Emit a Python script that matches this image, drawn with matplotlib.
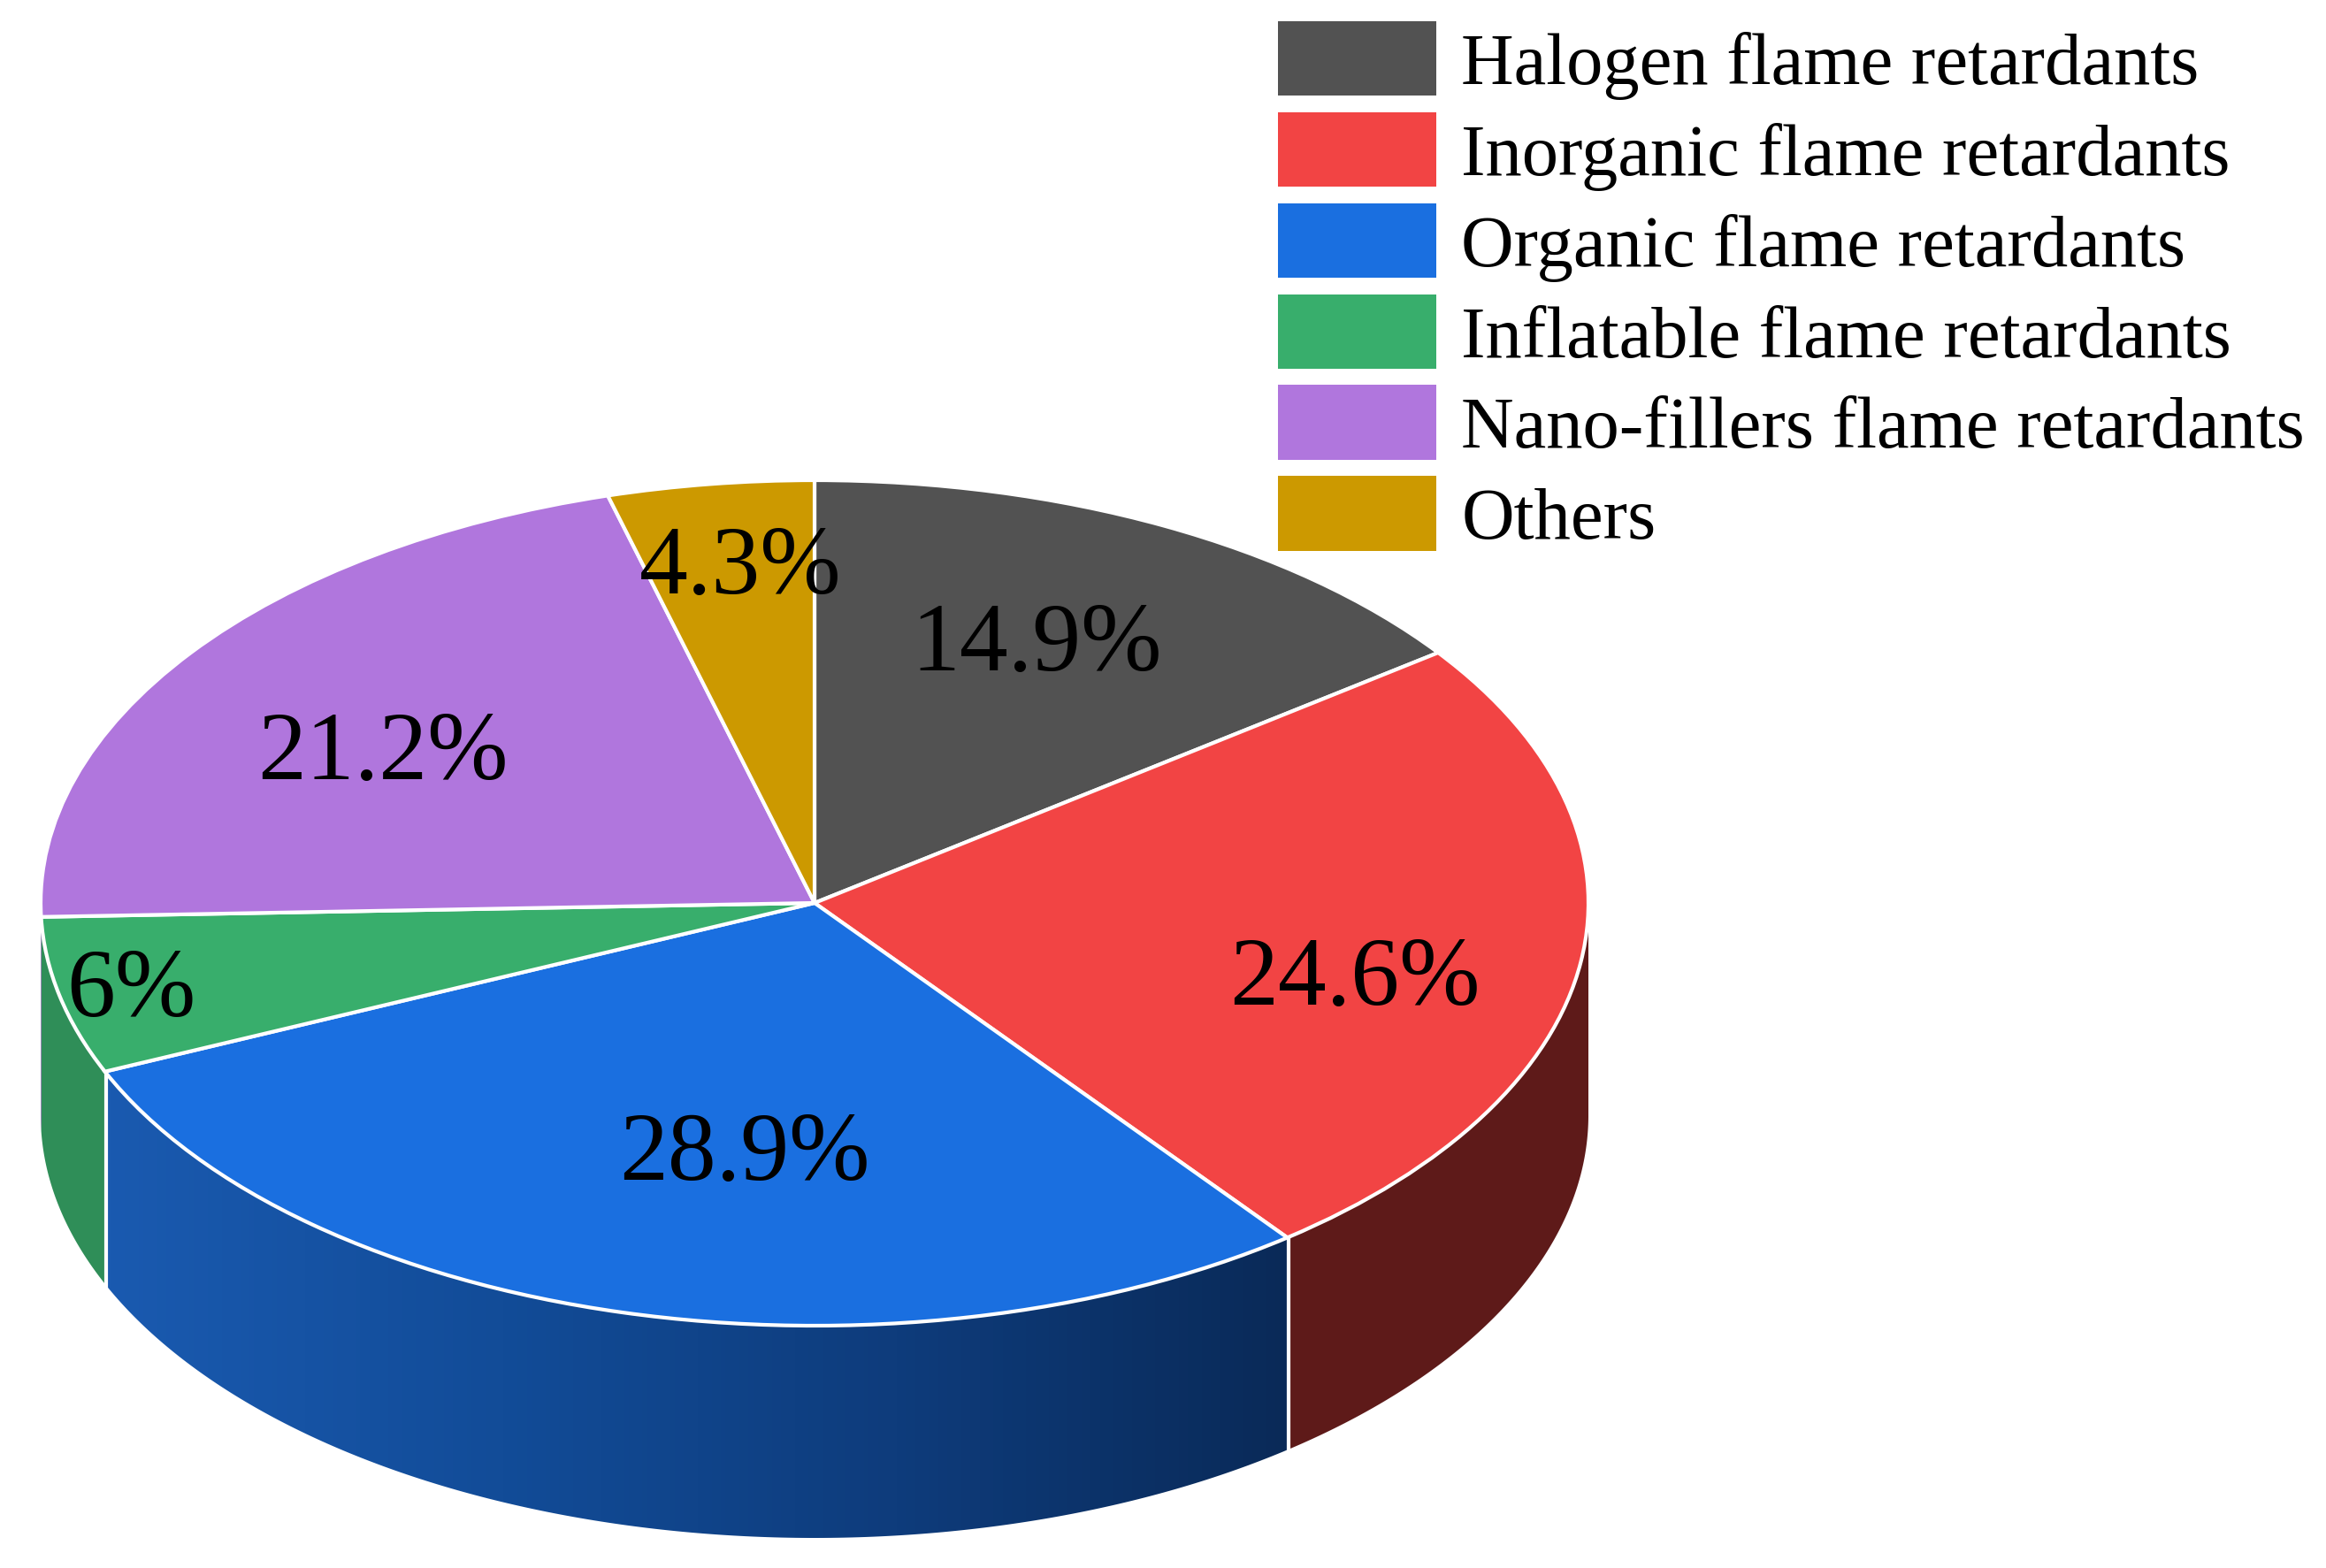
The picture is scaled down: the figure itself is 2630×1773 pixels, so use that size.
import numpy as np
import matplotlib
matplotlib.use("Agg")
import matplotlib.pyplot as plt
from matplotlib.colors import LinearSegmentedColormap
from matplotlib.patches import Polygon

plt.rcParams['font.family'] = ['Liberation Serif', 'DejaVu Serif']

names = ['Halogen flame retardants', 'Inorganic flame retardants', 'Organic flame retardants',
         'Inflatable flame retardants', 'Nano-fillers flame retardants', 'Others']
values = [14.9, 24.6, 28.9, 6, 21.2, 4.3]
colors = ['#525252', '#f24444', '#1a6fe0', '#38ae6c', '#b076dd', '#cc9900']
wall_colors = ['#333333', '#5e1a19', None, '#2f8e58', '#8a5cb0', '#a07800']
# label centres in pixels of the finished picture
label_xy = [(1172, 731), (1532, 1109), (842, 1307), (148, 1122), (433, 854), (837, 644)]

W, H = 2630, 1774
cx, cy, rx, ry = 921, 1022, 875, 478
depth = 240 / ry

fig = plt.figure(figsize=(W / 100, H / 100), dpi=100, facecolor='white')
ax = fig.add_axes([0, 0, 1, 1])

# side wall first, the top goes over it
edges = 90 - 3.6 * np.cumsum([0] + values)
for i in range(len(values)):
    t0 = max(edges[i + 1], -180)
    t1 = min(edges[i], 0)
    if t1 <= t0:
        continue
    t = np.radians(np.linspace(t0, t1, 200))
    x = np.cos(t)
    y = np.sin(t)
    pts = np.r_[np.c_[x, y], np.c_[x[::-1], y[::-1] - depth]]
    if wall_colors[i] is None:
        # organic wall has a left to right gradient
        cmap = LinearSegmentedColormap.from_list('wall', ['#1a5ab0', '#124c98', '#0e3c7c', '#0a2a58'])
        clip = Polygon(pts, closed=True, transform=ax.transData, fc='none', ec='none')
        ax.add_patch(clip)
        ax.imshow(np.linspace(0, 1, 256)[None, :], cmap=cmap, aspect='auto', clip_path=clip,
                  extent=(x.min(), x.max(), -1.6, 0.2), zorder=1)
        ax.plot([x[0], x[0]], [y[0], y[0] - depth], color='white', lw=3, zorder=2)
        ax.plot([x[-1], x[-1]], [y[-1], y[-1] - depth], color='white', lw=3, zorder=2)
    else:
        ax.add_patch(Polygon(pts, closed=True, fc=wall_colors[i], ec='none', zorder=1))

wedges, _ = ax.pie(values, colors=colors, startangle=90, counterclock=False, radius=1,
                   wedgeprops={'edgecolor': 'white', 'linewidth': 3, 'zorder': 3})

ax.set_aspect('auto')
ax.set_xlim(-cx / rx, (W - cx) / rx)
ax.set_ylim((cy - H) / ry, cy / ry)
ax.axis('off')

for v, (lx, ly) in zip(values, label_xy):
    fig.text(lx / W, 1 - ly / H, f'{v:g}%', fontsize=79, ha='center', va='center', color='black', zorder=5)

leg = fig.legend(wedges, names, loc='upper left', bbox_to_anchor=(1445 / W, 1 - 25 / H), frameon=False,
                 fontsize=59.5, handlelength=2.16, handleheight=1.19, handletextpad=0.35,
                 labelspacing=0.18, borderpad=0, borderaxespad=0)
for h in leg.legend_handles:
    h.set_edgecolor('none')

fig.savefig('out.png', dpi=100, facecolor='white')
